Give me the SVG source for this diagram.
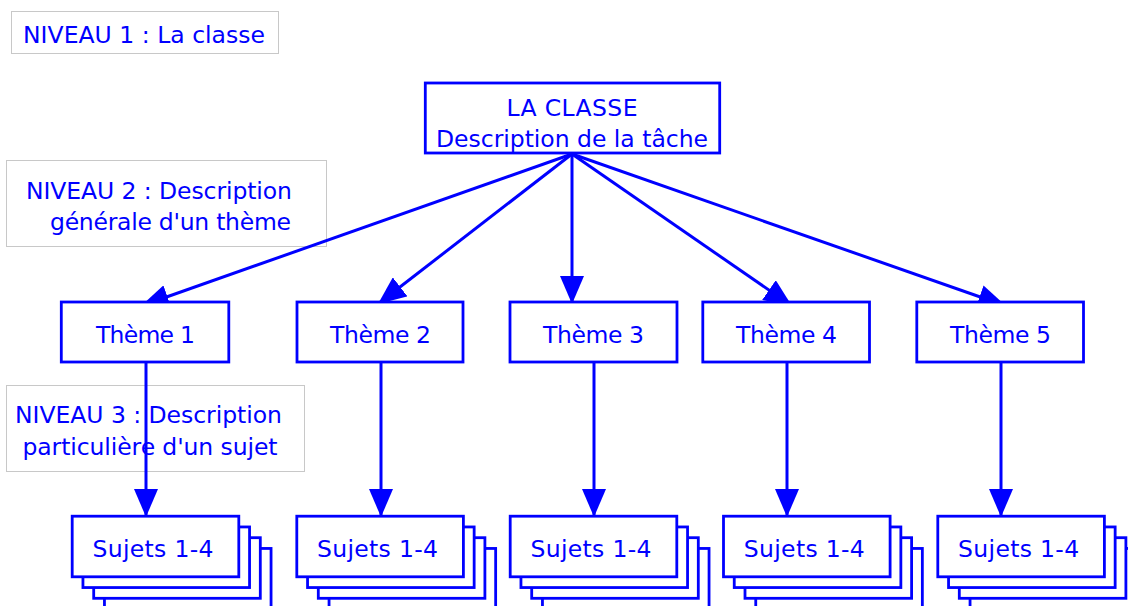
<svg xmlns="http://www.w3.org/2000/svg" width="1128" height="606" viewBox="0 0 1128 606">
<style>
text{font-family:"DejaVu Sans","Liberation Sans",sans-serif;font-size:23.5px;fill:#0000ff}
.lbl{fill:#ffffff;stroke:#c8c8c8;stroke-width:1}
.node{fill:#ffffff;stroke:#0000ff;stroke-width:2.8}
.c{text-anchor:middle}
#connectors line{stroke:#0000ff;stroke-width:3;marker-end:url(#ah)}
</style>
<defs>
<marker id="ah" markerUnits="userSpaceOnUse" markerWidth="28" markerHeight="24" viewBox="0 0 28 24" refX="28" refY="12" orient="auto">
<path d="M0,0 L28,12 L0,24 z" fill="#0000ff"/>
</marker>
<g id="stack">
<rect class="node" x="32.25" y="32.25" width="166.6" height="60.6"/>
<rect class="node" x="21.5" y="21.5" width="166.6" height="60.6"/>
<rect class="node" x="10.75" y="10.75" width="166.6" height="60.6"/>
<rect class="node" x="0" y="0" width="166.6" height="60.6"/>
</g>
</defs>
<rect width="1128" height="606" fill="#ffffff"/>
<g id="label1"><rect class="lbl" x="11.5" y="11.5" width="267" height="42"/><text x="23" y="43" textLength="242" lengthAdjust="spacing">NIVEAU 1 : La classe</text></g>
<g id="label2"><rect class="lbl" x="6.5" y="160.5" width="320" height="86"/><text x="26" y="199" textLength="266" lengthAdjust="spacing">NIVEAU 2 : Description</text><text x="50" y="230" textLength="241" lengthAdjust="spacing">générale d'un thème</text></g>
<g id="label3"><rect class="lbl" x="6.5" y="385.5" width="298" height="86"/><text x="15" y="423" textLength="267" lengthAdjust="spacing">NIVEAU 3 : Description</text><text x="22.5" y="455" textLength="255" lengthAdjust="spacing">particulière d'un sujet</text></g>
<g id="connectors">
<line x1="572" y1="154" x2="141" y2="306"/>
<line x1="572" y1="154" x2="378" y2="304"/>
<line x1="572" y1="154" x2="572" y2="304"/>
<line x1="572" y1="154" x2="792" y2="306"/>
<line x1="572" y1="154" x2="1006" y2="306"/>
<line x1="146" y1="362" x2="146" y2="517"/>
<line x1="381" y1="362" x2="381" y2="517"/>
<line x1="594" y1="362" x2="594" y2="517"/>
<line x1="787" y1="362" x2="787" y2="517"/>
<line x1="1001" y1="362" x2="1001" y2="517"/>
</g>
<g id="classe"><rect class="node" x="425.3" y="83" width="294.4" height="70"/><text class="c" x="572" y="116" textLength="131" lengthAdjust="spacing">LA CLASSE</text><text class="c" x="572" y="147" textLength="272" lengthAdjust="spacing">Description de la tâche</text></g>
<g id="theme1"><rect class="node" x="61.3" y="302" width="167.5" height="60"/><text class="c" x="145.5" y="343" textLength="99" lengthAdjust="spacing">Thème 1</text></g>
<g id="theme2"><rect class="node" x="297" y="302" width="166" height="60"/><text class="c" x="380.5" y="343" textLength="101" lengthAdjust="spacing">Thème 2</text></g>
<g id="theme3"><rect class="node" x="510" y="302" width="167" height="60"/><text class="c" x="593.5" y="343" textLength="101" lengthAdjust="spacing">Thème 3</text></g>
<g id="theme4"><rect class="node" x="702.8" y="302" width="166.7" height="60"/><text class="c" x="786.5" y="343" textLength="101" lengthAdjust="spacing">Thème 4</text></g>
<g id="theme5"><rect class="node" x="916.8" y="302" width="166.7" height="60"/><text class="c" x="1000.5" y="343" textLength="101" lengthAdjust="spacing">Thème 5</text></g>
<g id="sujets1"><use href="#stack" x="72.2" y="516.2"/><text class="c" x="153" y="557" textLength="121" lengthAdjust="spacing">Sujets 1-4</text></g>
<g id="sujets2"><use href="#stack" x="296.8" y="516.2"/><text class="c" x="377.5" y="557" textLength="121" lengthAdjust="spacing">Sujets 1-4</text></g>
<g id="sujets3"><use href="#stack" x="510.2" y="516.2"/><text class="c" x="591" y="557" textLength="121" lengthAdjust="spacing">Sujets 1-4</text></g>
<g id="sujets4"><use href="#stack" x="723.5" y="516.2"/><text class="c" x="804.3" y="557" textLength="121" lengthAdjust="spacing">Sujets 1-4</text></g>
<g id="sujets5"><use href="#stack" x="937.8" y="516.2"/><text class="c" x="1018.6" y="557" textLength="121" lengthAdjust="spacing">Sujets 1-4</text></g>
</svg>
